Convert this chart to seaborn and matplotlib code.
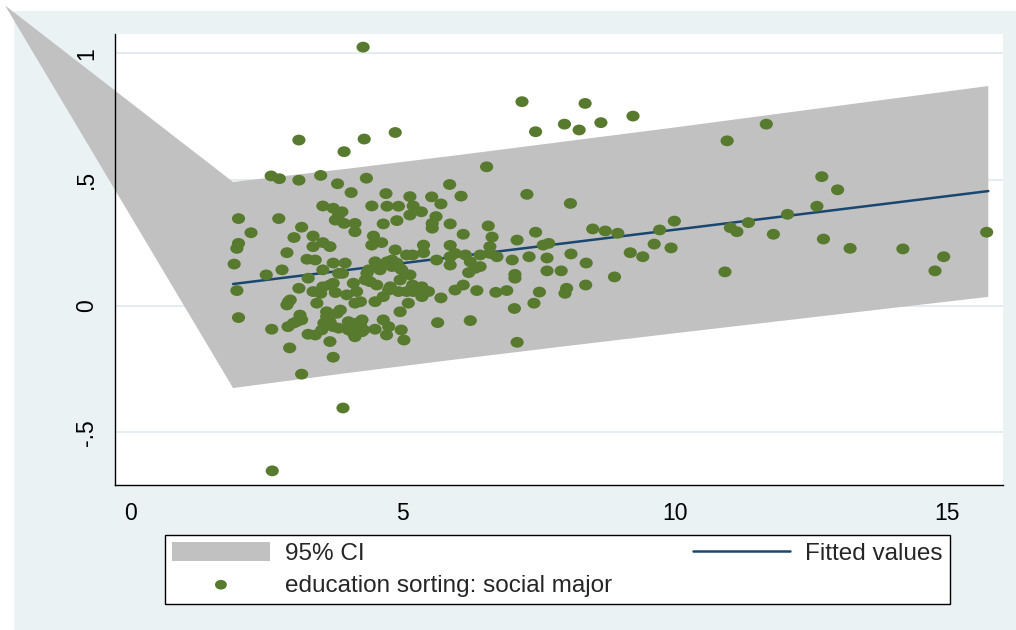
import numpy as np
import pandas as pd
import matplotlib
matplotlib.use("Agg")
import matplotlib.pyplot as plt
from matplotlib.patches import Rectangle
from matplotlib.path import Path
from matplotlib.markers import MarkerStyle
import seaborn as sns

# ---------------- data ----------------
edu_x = [4.27, 7.19, 8.35, 7.44, 7.97, 8.24, 8.64, 9.23, 10.96, 11.68,
         3.09, 4.29, 4.86, 3.92, 3.90, 2.60, 2.58, 2.73, 3.09, 3.49,
         3.80, 4.33, 4.05, 4.69, 5.13, 5.53, 5.70, 5.86, 6.07, 6.54,
         7.28, 8.08, 3.53, 3.72, 3.82, 3.88, 3.76, 3.92, 4.12, 4.12,
         4.43, 4.71, 4.92, 5.19, 5.34, 5.13, 4.89, 4.64, 5.61, 5.54,
         5.54, 5.87, 6.57, 6.11, 6.64, 4.46, 4.61, 4.43, 4.86, 5.38,
         5.38, 5.87, 5.18, 5.62, 5.87, 5.96, 6.15, 6.24, 6.42, 6.60,
         6.42, 5.87, 6.21, 6.33, 1.98, 2.72, 2.21, 3.14, 3.00, 3.35,
         3.53, 3.66, 3.35, 2.87, 1.98, 1.95, 1.90, 3.24, 3.39, 3.72,
         3.94, 2.78, 2.49, 1.95, 1.98, 3.26, 3.09, 3.35, 3.53, 3.89,
         3.49, 3.66, 3.76, 4.09, 4.15, 3.97, 4.22, 4.34, 4.40, 4.52,
         4.58, 4.70, 4.80, 4.95, 4.95, 5.13, 5.18, 5.07, 4.77, 4.64,
         4.49, 5.10, 5.35, 5.47, 5.70, 4.95, 5.64, 2.90, 2.87, 3.11,
         3.14, 2.99, 2.89, 2.59, 2.92, 3.14, 3.26, 3.39, 3.60, 3.60,
         3.79, 3.66, 3.72, 3.51, 3.66, 3.72, 4.00, 4.22, 4.09, 4.28,
         4.49, 4.64, 4.70, 4.97, 5.02, 4.74, 3.05, 3.82, 3.53, 3.72,
         3.42, 3.55, 4.00, 3.82, 4.15, 3.85, 2.93, 4.25, 4.18, 4.25,
         4.12, 5.19, 4.98, 4.80, 4.55, 4.37, 4.31, 4.74, 4.92, 4.12,
         6.36, 5.96, 6.11, 6.24, 5.35, 5.07, 4.49, 4.71, 4.89, 6.60,
         6.73, 7.44, 7.10, 7.58, 7.68, 7.32, 7.01, 7.65, 8.09, 8.37,
         8.49, 8.72, 8.95, 9.72, 9.99, 9.62, 9.93, 9.18, 9.41, 7.65,
         7.91, 7.06, 7.06, 8.89, 8.01, 7.98, 8.36, 7.51, 6.91, 6.71,
         7.41, 7.05, 7.10, 10.92, 11.02, 11.14, 11.35, 12.70, 12.99, 12.61,
         12.07, 11.81, 12.73, 13.22, 14.19, 14.94, 14.78, 15.73]
edu_y = [1.025, 0.809, 0.802, 0.690, 0.720, 0.697, 0.726, 0.752, 0.654, 0.720,
         0.657, 0.661, 0.687, 0.611, -0.404, -0.653, 0.515, 0.504, 0.498, 0.517,
         0.484, 0.506, 0.449, 0.445, 0.433, 0.432, 0.404, 0.481, 0.435, 0.551,
         0.442, 0.406, 0.396, 0.387, 0.360, 0.373, 0.340, 0.327, 0.327, 0.294,
         0.396, 0.395, 0.395, 0.396, 0.373, 0.360, 0.338, 0.325, 0.354, 0.327,
         0.308, 0.325, 0.317, 0.284, 0.273, 0.277, 0.251, 0.241, 0.222, 0.241,
         0.211, 0.240, 0.202, 0.182, 0.195, 0.208, 0.202, 0.175, 0.202, 0.208,
         0.156, 0.162, 0.132, 0.149, 0.346, 0.346, 0.290, 0.312, 0.271, 0.277,
         0.251, 0.235, 0.235, 0.211, 0.248, 0.228, 0.166, 0.185, 0.182, 0.170,
         0.170, 0.143, 0.123, 0.061, -0.046, 0.110, 0.070, 0.057, 0.143, 0.129,
         0.050, 0.083, 0.053, 0.090, 0.057, 0.044, 0.017, 0.129, 0.096, 0.083,
         0.143, 0.169, 0.182, 0.149, 0.103, 0.123, 0.083, 0.057, 0.076, 0.037,
         0.017, 0.011, 0.076, 0.057, 0.032, -0.023, -0.066, 0.017, 0.004, -0.036,
         -0.055, -0.068, -0.082, -0.092, -0.166, -0.270, -0.112, -0.115, -0.023, -0.042,
         -0.029, -0.062, -0.082, -0.095, -0.141, -0.203, -0.062, -0.075, -0.108, -0.095,
         -0.092, -0.055, -0.115, -0.095, -0.135, -0.082, -0.062, 0.129, 0.076, 0.090,
         0.011, -0.068, -0.095, -0.088, -0.068, -0.016, 0.024, -0.055, -0.082, -0.102,
         -0.122, 0.057, 0.143, 0.156, 0.156, 0.143, 0.103, 0.063, 0.057, 0.011,
         0.061, 0.063, 0.083, -0.058, 0.037, 0.202, 0.175, 0.175, 0.170, 0.235,
         0.195, 0.292, 0.261, 0.241, 0.248, 0.195, 0.182, 0.190, 0.206, 0.170,
         0.305, 0.297, 0.288, 0.301, 0.336, 0.245, 0.230, 0.211, 0.195, 0.139,
         0.139, 0.125, 0.110, 0.115, 0.070, 0.050, 0.083, 0.055, 0.061, 0.054,
         0.011, -0.010, -0.144, 0.135, 0.310, 0.294, 0.330, 0.512, 0.460, 0.395,
         0.363, 0.284, 0.265, 0.228, 0.226, 0.195, 0.139, 0.292]

ci_x = [1.88, 4.0, 6.0, 8.0, 10.0, 12.0, 14.0, 15.76]
ci_upper = [0.491, 0.544, 0.597, 0.652, 0.707, 0.764, 0.821, 0.871]
ci_lower = [-0.325, -0.265, -0.211, -0.159, -0.108, -0.058, -0.008, 0.036]
fit_y = [0.087, 0.143, 0.196, 0.249, 0.302, 0.355, 0.408, 0.455]

# stray vertex of the CI area that lies outside the plot region
stray_x = [-2.31]
stray_y = [1.19]

x_ticks = [0, 5, 10, 15]
x_tick_labels = ["0", "5", "10", "15"]
y_ticks = [-0.5, 0, 0.5, 1]
y_tick_labels = ["-.5", "0", ".5", "1"]
legend_labels = ["95% CI", "Fitted values", "education sorting: social major"]

# ---------------- styling ----------------
sns.set_style("white")
plt.rcParams["font.family"] = ["Liberation Sans", "DejaVu Sans"]

BG = "#EAF2F3"
GRID = "#E2EBEE"
CI_COL = "#C1C1C1"
FIT_COL = "#1A476F"
DOT_COL = "#587A2E"

fig = plt.figure(figsize=(10.16, 6.3), dpi=100)
fig.patch.set_facecolor("white")
fig.patches.append(Rectangle((14 / 1016, 0), 1 - 14 / 1016, 1 - 11 / 630,
                             transform=fig.transFigure, facecolor=BG,
                             edgecolor="none", zorder=-1))

ax = fig.add_axes([115 / 1016, 1 - 485 / 630, (1003 - 115) / 1016, (485 - 34) / 630])
ax.set_facecolor("white")

# CI area
poly_x = stray_x + ci_x + ci_x[::-1]
poly_y = stray_y + ci_upper + ci_lower[::-1]
poly = ax.fill(poly_x, poly_y, color=CI_COL, lw=0, clip_on=False, zorder=1,
               label=legend_labels[0])[0]

# fitted line
sns.lineplot(x=ci_x, y=fit_y, ax=ax, color=FIT_COL, lw=1.8, zorder=2,
             label=legend_labels[1], legend=False)
fit_line = ax.lines[-1]

# scatter with slightly flattened dots
circ = Path.unit_circle()
ell = Path(circ.vertices * np.array([1.0, 0.82]), circ.codes)
sns.scatterplot(x=edu_x, y=edu_y, ax=ax, color=DOT_COL, s=90,
                marker=MarkerStyle(ell), edgecolor="none", linewidth=0,
                zorder=3, label=legend_labels[2], legend=False)
dots = ax.collections[-1]

ax.set_xlim(-0.29, 16.03)
ax.set_ylim(-0.709, 1.077)
ax.set_xticks(x_ticks, labels=x_tick_labels)
ax.set_yticks(y_ticks, labels=y_tick_labels)
ax.tick_params(axis="both", direction="out", length=7, width=1, color="black",
               labelsize=16.5, pad=5, labelcolor="black")
ax.tick_params(axis="y", labelrotation=90)
for lab in ax.get_yticklabels():
    lab.set_va("center")

ax.yaxis.grid(True, color=GRID, lw=1.3)
ax.xaxis.grid(False)
ax.set_axisbelow(True)
for side in ["top", "right"]:
    ax.spines[side].set_visible(False)
for side in ["left", "bottom"]:
    ax.spines[side].set_color("black")
    ax.spines[side].set_linewidth(1.0)
ax.set_xlabel("")
ax.set_ylabel("")

leg = fig.legend(handles=[poly, dots, fit_line],
                 labels=[legend_labels[0], legend_labels[2], legend_labels[1]],
                 ncol=2, loc="lower left",
                 bbox_to_anchor=(165 / 1016, 1 - 604 / 630, (950 - 165) / 1016, (604 - 534) / 630),
                 mode="expand", frameon=True, fancybox=False, framealpha=1,
                 edgecolor="black", facecolor="white", borderaxespad=0,
                 handlelength=4.0, handleheight=0.8, handletextpad=0.62,
                 borderpad=0.3, labelspacing=0.37, fontsize=17.5,
                 scatterpoints=1, markerscale=0.9)
leg.get_frame().set_linewidth(1.0)

fig.savefig("out.png", dpi=100, facecolor=fig.get_facecolor())
